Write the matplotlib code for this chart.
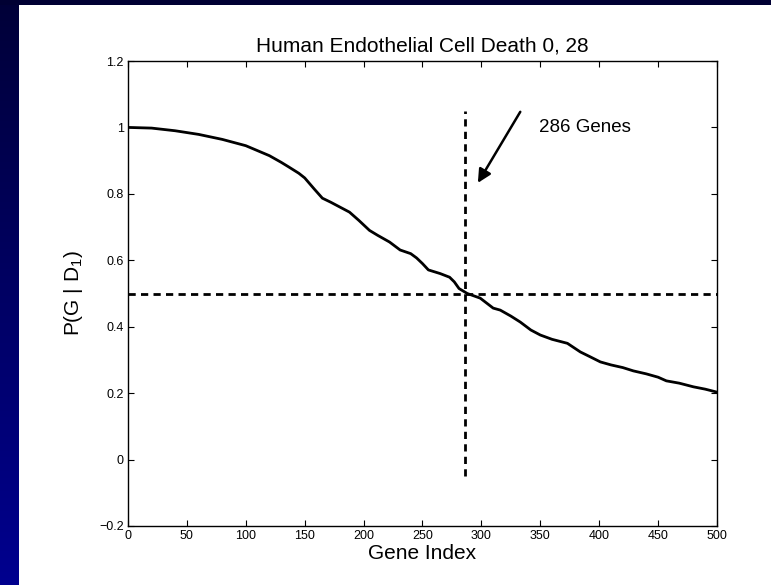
import numpy as np
import matplotlib
matplotlib.use("Agg")
import matplotlib.pyplot as plt
from matplotlib.colors import LinearSegmentedColormap

plt.rcParams['font.family'] = ['Liberation Sans', 'DejaVu Sans']
plt.rcParams['mathtext.default'] = 'regular'

# Data
gene_index = [0, 20, 40, 60, 80, 100, 110, 120, 130, 136, 145, 150, 158, 165, 172, 180, 188, 196, 205,
              212, 222, 231, 240, 245, 250, 255, 265, 273, 277, 281, 288, 299, 310, 316, 325, 333,
              342, 350, 360, 373, 384, 392, 401, 410, 420, 429, 440, 450, 457, 468, 480, 490, 500]
prob = [1.0, 0.998, 0.99, 0.979, 0.964, 0.945, 0.93, 0.915, 0.895, 0.882, 0.862, 0.848, 0.815, 0.787,
        0.775, 0.76, 0.745, 0.72, 0.69, 0.675, 0.655, 0.631, 0.62, 0.607, 0.59, 0.571, 0.56, 0.549,
        0.535, 0.515, 0.50, 0.486, 0.456, 0.45, 0.432, 0.414, 0.39, 0.375, 0.362, 0.35, 0.324, 0.31,
        0.294, 0.285, 0.277, 0.267, 0.258, 0.248, 0.237, 0.23, 0.219, 0.212, 0.203]

cutoff_gene = 286
cutoff_prob = 0.5
vline_range = [-0.05, 1.05]
x_ticks = list(range(0, 501, 50))
y_ticks = [-0.2, 0, 0.2, 0.4, 0.6, 0.8, 1, 1.2]
y_tick_labels = ['\u22120.2', '0', '0.2', '0.4', '0.6', '0.8', '1', '1.2']
title = "Human Endothelial Cell Death 0, 28"
annotation = "286 Genes"

W, H = 771, 585
fig = plt.figure(figsize=(W / 100, H / 100), dpi=100, facecolor='white')

# Dark blue frame: top strip and left gradient strip
bg = fig.add_axes([0, 0, 19 / W, 1])
grad = np.linspace(0, 1, 256).reshape(-1, 1)
cmap = LinearSegmentedColormap.from_list('bl', [(0, 0, 0.22), (0, 0, 0.56)])
bg.imshow(grad, aspect='auto', cmap=cmap, extent=[0, 1, 1, 0])
bg.set_axis_off()
top = fig.add_axes([0, 1 - 5 / H, 1, 5 / H])
top.set_facecolor((0, 0, 0.2))
top.set_xticks([]); top.set_yticks([])
for s in top.spines.values():
    s.set_visible(False)

ax = fig.add_axes([128 / W, 1 - 526 / H, (717 - 128) / W, (526 - 61) / H])
ax.plot(gene_index, prob, color='black', lw=2)
ax.plot([0, 500], [cutoff_prob, cutoff_prob], color='black', lw=2, dashes=(2.6, 1.9))
ax.plot([cutoff_gene, cutoff_gene], vline_range, color='black', lw=2, dashes=(2.6, 1.9))
ax.annotate('', xy=(297, 0.833), xytext=(333, 1.047),
            arrowprops=dict(arrowstyle='-|>', color='black', lw=1.8, mutation_scale=20,
                            shrinkA=0, shrinkB=0))
ax.text(349, 1.0, annotation, fontsize=13.5, ha='left', va='center')

ax.set_xlim(0, 500)
ax.set_ylim(-0.2, 1.2)
ax.set_xticks(x_ticks)
ax.set_yticks(y_ticks)
ax.set_yticklabels(y_tick_labels)
ax.tick_params(direction='in', top=True, right=True, length=4, width=0.8, labelsize=9, pad=3)
for s in ax.spines.values():
    s.set_linewidth(1.0)
ax.set_title(title, fontsize=15, pad=7)
ax.set_xlabel('Gene Index', fontsize=15, labelpad=1)
ax.set_ylabel('P(G | D$_1$)', fontsize=15, labelpad=10)

fig.savefig('out.png', dpi=100, facecolor='white')
